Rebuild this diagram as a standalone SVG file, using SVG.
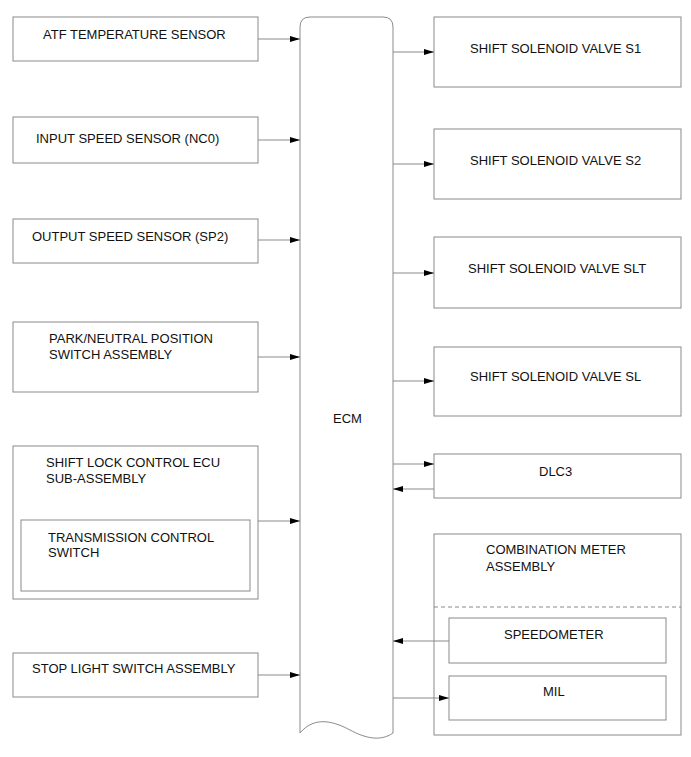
<svg xmlns="http://www.w3.org/2000/svg" width="691" height="757" viewBox="0 0 691 757">
<defs>
<style>
.box{fill:#fff;stroke:#8a8a8a;stroke-width:1}
.ln{fill:none;stroke:#8a8a8a;stroke-width:1}
.dash{fill:none;stroke:#8a8a8a;stroke-width:1;stroke-dasharray:4,3}
text{font-family:"Liberation Sans",Arial,sans-serif;font-size:13px;fill:#111}
</style>
<marker id="ah" viewBox="0 0 10 6" refX="10" refY="3" markerWidth="10" markerHeight="6" markerUnits="userSpaceOnUse" orient="auto">
<path d="M0,0 L10,3 L0,6 Z" fill="#000"/>
</marker>
</defs>
<rect width="691" height="757" fill="#fff"/>

<g id="ecm">
<path class="box" d="M300,733 L300,27 Q300,17 310,17 L383,17 Q393,17 393,27 L393,733 C380,742 365,738 350,730 C335,722 315,715 300,733 Z"/>
<text x="333" y="423">ECM</text>
</g>

<g id="atf">
<rect class="box" x="13" y="17" width="245" height="44"/>
<text x="43" y="39">ATF TEMPERATURE SENSOR</text>
</g>
<g id="input-speed">
<rect class="box" x="13" y="117" width="245" height="46"/>
<text x="36" y="143">INPUT SPEED SENSOR (NC0)</text>
</g>
<g id="output-speed">
<rect class="box" x="13" y="219" width="245" height="44"/>
<text x="32" y="241">OUTPUT SPEED SENSOR (SP2)</text>
</g>
<g id="pnp">
<rect class="box" x="13" y="322" width="245" height="70"/>
<text x="49" y="343">PARK/NEUTRAL POSITION</text>
<text x="49" y="359">SWITCH ASSEMBLY</text>
</g>
<g id="shift-lock">
<rect class="box" x="13" y="446" width="245" height="153"/>
<text x="46" y="467">SHIFT LOCK CONTROL ECU</text>
<text x="46" y="483">SUB-ASSEMBLY</text>
</g>
<g id="tcs">
<rect class="box" x="21" y="520" width="229" height="71"/>
<text x="48" y="542">TRANSMISSION CONTROL</text>
<text x="48" y="557">SWITCH</text>
</g>
<g id="stop-light">
<rect class="box" x="13" y="653" width="245" height="44"/>
<text x="32" y="673">STOP LIGHT SWITCH ASSEMBLY</text>
</g>

<g id="s1">
<rect class="box" x="434" y="17" width="247" height="70"/>
<text x="470" y="53">SHIFT SOLENOID VALVE S1</text>
</g>
<g id="s2">
<rect class="box" x="434" y="129" width="247" height="70"/>
<text x="470" y="165">SHIFT SOLENOID VALVE S2</text>
</g>
<g id="slt">
<rect class="box" x="434" y="237" width="247" height="71"/>
<text x="468" y="273">SHIFT SOLENOID VALVE SLT</text>
</g>
<g id="sl">
<rect class="box" x="434" y="347" width="247" height="69"/>
<text x="470" y="381">SHIFT SOLENOID VALVE SL</text>
</g>
<g id="dlc3">
<rect class="box" x="434" y="454" width="247" height="44"/>
<text x="539" y="476">DLC3</text>
</g>
<g id="combination-meter">
<rect class="box" x="434" y="534" width="247" height="201"/>
<line class="dash" x1="434" y1="607" x2="681" y2="607"/>
<text x="486" y="554">COMBINATION METER</text>
<text x="486" y="571">ASSEMBLY</text>
</g>
<g id="speedometer">
<rect class="box" x="449" y="618" width="217" height="45"/>
<text x="504" y="639">SPEEDOMETER</text>
</g>
<g id="mil">
<rect class="box" x="449" y="676" width="217" height="44"/>
<text x="543" y="696">MIL</text>
</g>

<g id="connectors">
<line class="ln" x1="258" y1="39" x2="300" y2="39" marker-end="url(#ah)"/>
<line class="ln" x1="258" y1="140" x2="300" y2="140" marker-end="url(#ah)"/>
<line class="ln" x1="258" y1="240" x2="300" y2="240" marker-end="url(#ah)"/>
<line class="ln" x1="258" y1="357" x2="300" y2="357" marker-end="url(#ah)"/>
<line class="ln" x1="258" y1="521" x2="300" y2="521" marker-end="url(#ah)"/>
<line class="ln" x1="258" y1="675" x2="300" y2="675" marker-end="url(#ah)"/>
<line class="ln" x1="393" y1="52" x2="434" y2="52" marker-end="url(#ah)"/>
<line class="ln" x1="393" y1="164" x2="434" y2="164" marker-end="url(#ah)"/>
<line class="ln" x1="393" y1="273" x2="434" y2="273" marker-end="url(#ah)"/>
<line class="ln" x1="393" y1="381" x2="434" y2="381" marker-end="url(#ah)"/>
<line class="ln" x1="393" y1="464" x2="434" y2="464" marker-end="url(#ah)"/>
<line class="ln" x1="434" y1="489" x2="393" y2="489" marker-end="url(#ah)"/>
<line class="ln" x1="449" y1="641" x2="393" y2="641" marker-end="url(#ah)"/>
<line class="ln" x1="393" y1="698" x2="449" y2="698" marker-end="url(#ah)"/>
</g>
</svg>
